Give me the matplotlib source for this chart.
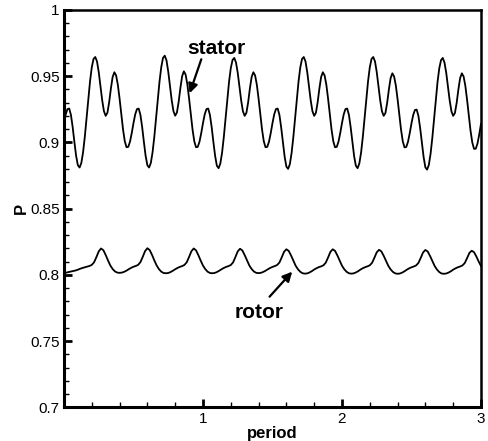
import numpy as np
import matplotlib
matplotlib.use("Agg")
import matplotlib.pyplot as plt
from matplotlib.ticker import MultipleLocator, FormatStrFormatter

plt.rcParams["font.family"] = ["Liberation Sans", "DejaVu Sans"]

# stator pressure, sampled every 1/80 period (one row per blade passing)
stator_p = [
    0.9146, 0.9212, 0.9252, 0.9256, 0.9208, 0.9116, 0.9003, 0.8898, 0.8828, 0.8811,
    0.8846, 0.8927, 0.9044, 0.9183, 0.9328, 0.9462, 0.9567, 0.9630, 0.9645, 0.9612,
    0.9532, 0.9425, 0.9318, 0.9236, 0.9201, 0.9224, 0.9303, 0.9407, 0.9494, 0.9530,
    0.9506, 0.9436, 0.9331, 0.9211, 0.9097, 0.9009, 0.8964, 0.8967, 0.9006, 0.9071,

    0.9146, 0.9212, 0.9252, 0.9256, 0.9208, 0.9116, 0.9003, 0.8898, 0.8828, 0.8811,
    0.8846, 0.8927, 0.9044, 0.9183, 0.9328, 0.9462, 0.9569, 0.9638, 0.9655, 0.9620,
    0.9536, 0.9427, 0.9319, 0.9237, 0.9202, 0.9226, 0.9306, 0.9411, 0.9500, 0.9537,
    0.9512, 0.9439, 0.9332, 0.9211, 0.9097, 0.9009, 0.8964, 0.8967, 0.9006, 0.9071,

    0.9146, 0.9212, 0.9252, 0.9256, 0.9208, 0.9116, 0.9003, 0.8898, 0.8824, 0.8806,
    0.8842, 0.8924, 0.9042, 0.9181, 0.9325, 0.9457, 0.9560, 0.9622, 0.9638, 0.9604,
    0.9526, 0.9421, 0.9316, 0.9235, 0.9201, 0.9224, 0.9303, 0.9407, 0.9494, 0.9530,
    0.9506, 0.9436, 0.9331, 0.9211, 0.9097, 0.9009, 0.8964, 0.8967, 0.9006, 0.9071,

    0.9146, 0.9212, 0.9252, 0.9256, 0.9208, 0.9114, 0.9000, 0.8893, 0.8818, 0.8801,
    0.8836, 0.8920, 0.9040, 0.9180, 0.9326, 0.9460, 0.9566, 0.9630, 0.9645, 0.9612,
    0.9532, 0.9425, 0.9318, 0.9236, 0.9201, 0.9224, 0.9303, 0.9407, 0.9494, 0.9530,
    0.9506, 0.9436, 0.9331, 0.9211, 0.9097, 0.9009, 0.8964, 0.8967, 0.9006, 0.9071,

    0.9146, 0.9212, 0.9252, 0.9256, 0.9208, 0.9115, 0.9002, 0.8896, 0.8824, 0.8806,
    0.8842, 0.8924, 0.9042, 0.9182, 0.9327, 0.9461, 0.9566, 0.9630, 0.9645, 0.9612,
    0.9532, 0.9425, 0.9318, 0.9236, 0.9201, 0.9222, 0.9298, 0.9400, 0.9486, 0.9522,
    0.9498, 0.9430, 0.9327, 0.9209, 0.9096, 0.9008, 0.8963, 0.8966, 0.9005, 0.9070,

    0.9144, 0.9208, 0.9245, 0.9248, 0.9200, 0.9108, 0.8995, 0.8889, 0.8812, 0.8795,
    0.8831, 0.8915, 0.9035, 0.9177, 0.9323, 0.9456, 0.9560, 0.9621, 0.9638, 0.9603,
    0.9526, 0.9421, 0.9316, 0.9235, 0.9201, 0.9222, 0.9298, 0.9400, 0.9486, 0.9522,
    0.9498, 0.9428, 0.9322, 0.9202, 0.9088, 0.9000, 0.8952, 0.8953, 0.8992, 0.9060,

    0.9140,
]

# rotor pressure, sampled every 1/60 period
rotor_p = [
    0.8015, 0.8018, 0.8022, 0.8026, 0.8030, 0.8034, 0.8040, 0.8047, 0.8053, 0.8058,
    0.8063, 0.8068, 0.8076, 0.8096, 0.8135, 0.8178,

    0.8200, 0.8187, 0.8151, 0.8110, 0.8072, 0.8045, 0.8027, 0.8018, 0.8016, 0.8018,
    0.8024, 0.8033, 0.8044, 0.8054, 0.8062, 0.8068, 0.8076, 0.8097, 0.8137, 0.8180,

    0.8202, 0.8188, 0.8152, 0.8110, 0.8072, 0.8044, 0.8025, 0.8015, 0.8013, 0.8015,
    0.8022, 0.8032, 0.8043, 0.8053, 0.8061, 0.8067, 0.8076, 0.8096, 0.8136, 0.8179,

    0.8200, 0.8186, 0.8150, 0.8109, 0.8071, 0.8044, 0.8025, 0.8015, 0.8013, 0.8015,
    0.8022, 0.8032, 0.8043, 0.8053, 0.8061, 0.8067, 0.8075, 0.8095, 0.8135, 0.8178,

    0.8198, 0.8185, 0.8150, 0.8110, 0.8072, 0.8045, 0.8026, 0.8016, 0.8014, 0.8016,
    0.8023, 0.8032, 0.8043, 0.8053, 0.8061, 0.8067, 0.8075, 0.8094, 0.8133, 0.8175,

    0.8194, 0.8182, 0.8148, 0.8108, 0.8070, 0.8043, 0.8024, 0.8013, 0.8010, 0.8012,
    0.8019, 0.8029, 0.8041, 0.8051, 0.8059, 0.8065, 0.8073, 0.8093, 0.8132, 0.8174,

    0.8194, 0.8182, 0.8148, 0.8108, 0.8070, 0.8043, 0.8024, 0.8013, 0.8010, 0.8012,
    0.8019, 0.8029, 0.8041, 0.8051, 0.8059, 0.8065, 0.8073, 0.8092, 0.8130, 0.8171,

    0.8190, 0.8178, 0.8145, 0.8106, 0.8069, 0.8042, 0.8023, 0.8012, 0.8009, 0.8011,
    0.8018, 0.8028, 0.8040, 0.8050, 0.8058, 0.8064, 0.8072, 0.8091, 0.8129, 0.8170,

    0.8189, 0.8177, 0.8144, 0.8105, 0.8068, 0.8041, 0.8022, 0.8011, 0.8009, 0.8011,
    0.8018, 0.8028, 0.8040, 0.8050, 0.8058, 0.8064, 0.8072, 0.8090, 0.8127, 0.8166,

    0.8183, 0.8172, 0.8140, 0.8102, 0.8068,
]

stator_t = np.linspace(0, 3, len(stator_p))
rotor_t = np.linspace(0, 3, len(rotor_p))

x_major = [1, 2, 3]
y_major = [0.7, 0.75, 0.8, 0.85, 0.9, 0.95, 1.0]

fig = plt.figure(figsize=(4.88, 4.41), dpi=100)
ax = fig.add_axes([0.1311, 0.076, 0.8545, 0.9014])

ax.plot(stator_t, stator_p, color="black", lw=1.3)
ax.plot(rotor_t, rotor_p, color="black", lw=1.3)

ax.set_xlim(0, 3)
ax.set_ylim(0.7, 1.0)
ax.set_xticks(x_major)
ax.set_yticks(y_major)
ax.xaxis.set_minor_locator(MultipleLocator(0.2))
ax.yaxis.set_minor_locator(MultipleLocator(0.01))
ax.yaxis.set_major_formatter(FormatStrFormatter("%g"))

ax.tick_params(which="both", direction="in", top=False, right=False,
               labelsize=11, colors="black")
ax.tick_params(which="major", length=6, width=2, pad=3)
ax.tick_params(which="minor", length=3.5, width=1)

for side in ["left", "bottom"]:
    ax.spines[side].set_linewidth(2.2)
for side in ["top", "right"]:
    ax.spines[side].set_linewidth(1.8)

ax.set_xlabel("period", fontsize=12, fontweight="bold", labelpad=0)
ax.set_ylabel("P", fontsize=12, fontweight="bold", labelpad=1)

# labels with arrows pointing at each trace
ax.text(1.095, 0.9668, "stator", fontsize=15, fontweight="bold",
        ha="center", va="baseline")
ax.annotate("", xy=(0.904, 0.9371), xytext=(0.988, 0.9628),
            arrowprops=dict(arrowstyle="-|>", color="black", lw=1.6,
                            mutation_scale=14, shrinkA=0, shrinkB=0))

ax.text(1.401, 0.7675, "rotor", fontsize=15, fontweight="bold",
        ha="center", va="baseline")
ax.annotate("", xy=(1.642, 0.8025), xytext=(1.479, 0.7836),
            arrowprops=dict(arrowstyle="-|>", color="black", lw=1.6,
                            mutation_scale=14, shrinkA=0, shrinkB=0))

fig.savefig("out.png", dpi=100)
